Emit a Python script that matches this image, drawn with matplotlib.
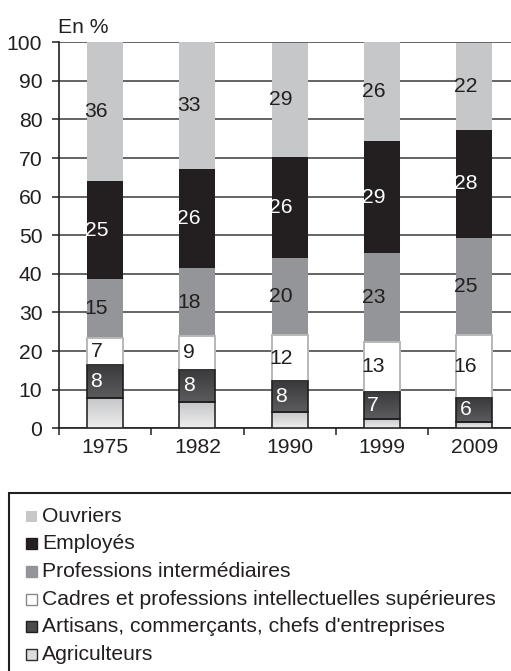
import matplotlib
matplotlib.use('Agg')
import matplotlib.pyplot as plt
import numpy as np
from matplotlib.patches import Rectangle
from matplotlib.colors import LinearSegmentedColormap

plt.rcParams['font.family'] = ['Liberation Sans', 'DejaVu Sans']

# ---- data (%), stacked from bottom ----
years = ['1975', '1982', '1990', '1999', '2009']
agriculteurs = [7.9, 6.8, 4.3, 2.4, 1.7]
artisans = [8.4, 8.4, 8.0, 7.0, 6.2]
cadres = [7.0, 8.7, 11.8, 13.0, 16.4]
prof_inter = [15.4, 17.6, 19.9, 22.9, 25.0]
employes = [25.3, 25.7, 26.4, 29.2, 28.1]
ouvriers = [36.0, 32.8, 29.4, 25.6, 22.4]

names = ['Agriculteurs',
         "Artisans, commerçants, chefs d'entreprises",
         'Cadres et professions intellectuelles supérieures',
         'Professions intermédiaires',
         'Employés',
         'Ouvriers']
series = [agriculteurs, artisans, cadres, prof_inter, employes, ouvriers]

# styles: facecolor, edgecolor, linewidth, gradient(top,bottom), label color
styles = [
    ('#dcdddf', '#2a2a2a', 1.2, ('#c4c5c7', '#eeeeee'), None),
    ('#48484a', '#1e1e1e', 1.2, ('#3a3a3c', '#5c5c5e'), 'white'),
    ('white', '#b8b8b8', 1.4, None, '#231f20'),
    ('#939598', 'none', 0, None, '#231f20'),
    ('#231f20', 'none', 0, None, 'white'),
    ('#c6c7c9', 'none', 0, None, '#231f20'),
]

W, H = 511, 671
fig = plt.figure(figsize=(W / 100, H / 100), dpi=100)
ax = fig.add_axes([59 / W, 1 - 428.3 / H, (W - 59) / W, (428.3 - 42.3) / H])

x = np.arange(len(years))
bw = 0.39
bottom = np.zeros(len(years))
FS = 15.2
for vals, (fc, ec, lw, grad, tc) in zip(series, styles):
    vals = np.array(vals)
    bars = ax.bar(x, vals, bw, bottom=bottom, color=fc, edgecolor='none', zorder=3)
    if grad is not None:
        cmap = LinearSegmentedColormap.from_list('g', [grad[1], grad[0]])
        for b in bars:
            im = ax.imshow(np.linspace(0, 1, 64).reshape(-1, 1), cmap=cmap, origin='lower',
                           extent=[b.get_x(), b.get_x() + b.get_width(),
                                   b.get_y(), b.get_y() + b.get_height()],
                           aspect='auto', zorder=3.2, interpolation='bilinear')
            im.set_clip_path(b)
    if ec != 'none':
        ax.bar(x, vals, bw, bottom=bottom, facecolor='none', edgecolor=ec,
               linewidth=lw, zorder=4 if grad is not None else 3.6)
    if tc is not None:
        for xi, b0, v in zip(x, bottom, vals):
            ax.text(xi - 0.095, b0 + v / 2, f'{v:.0f}', ha='center', va='center',
                    fontsize=FS, color=tc, zorder=6)
    bottom = bottom + vals

ax.set_xlim(-0.495, -0.495 + (W - 59) / 92.4)
ax.set_ylim(0, 100)
ax.set_xticks(x, years)
ax.set_xticks(np.arange(-0.5, 4.5, 1), minor=True)
ax.tick_params(axis='x', which='major', length=0, pad=7, labelsize=FS, colors='#231f20')
ax.tick_params(axis='x', which='minor', length=5, width=1.1, color='#231f20')
ax.set_yticks(range(0, 101, 10))
ax.tick_params(axis='y', length=5, width=1.1, pad=7, labelsize=FS, colors='#231f20')
ax.yaxis.grid(True, color='#3a3a3a', linewidth=1.1, zorder=1)
ax.set_axisbelow(True)
for s in ['top', 'right']:
    ax.spines[s].set_visible(False)
for s in ['left', 'bottom']:
    ax.spines[s].set_color('#231f20')
    ax.spines[s].set_linewidth(1.2)

fig.text(58 / W, 1 - 33.3 / H, 'En %', ha='left', va='baseline', fontsize=FS, color='#231f20')

# ---- legend (box cut by figure edges) ----
fig.patches.append(Rectangle((9 / W, -0.2), 1.2, (1 - 493 / H) + 0.2, transform=fig.transFigure,
                             fill=False, edgecolor='#231f20', linewidth=1.5))
leg_order = [5, 4, 3, 2, 1, 0]
leg_style = {
    5: ('#c6c7c9', 'none'),
    4: ('#231f20', '#231f20'),
    3: ('#939598', '#939598'),
    2: ('white', '#8a8a8a'),
    1: ('#4a4a4c', '#1e1e1e'),
    0: ('#dcdddf', '#2a2a2a'),
}
base0 = 521.7
step = 27.66
for k, idx in enumerate(leg_order):
    bl = base0 + k * step
    fc, ec = leg_style[idx]
    fig.patches.append(Rectangle((25.5 / W, 1 - bl / H), 11 / W, 11 / H, transform=fig.transFigure,
                                 facecolor=fc, edgecolor=ec, linewidth=1.0))
    fig.text(42 / W, 1 - bl / H, names[idx], ha='left', va='baseline', fontsize=FS, color='#231f20')

fig.savefig('out.png', dpi=100)
